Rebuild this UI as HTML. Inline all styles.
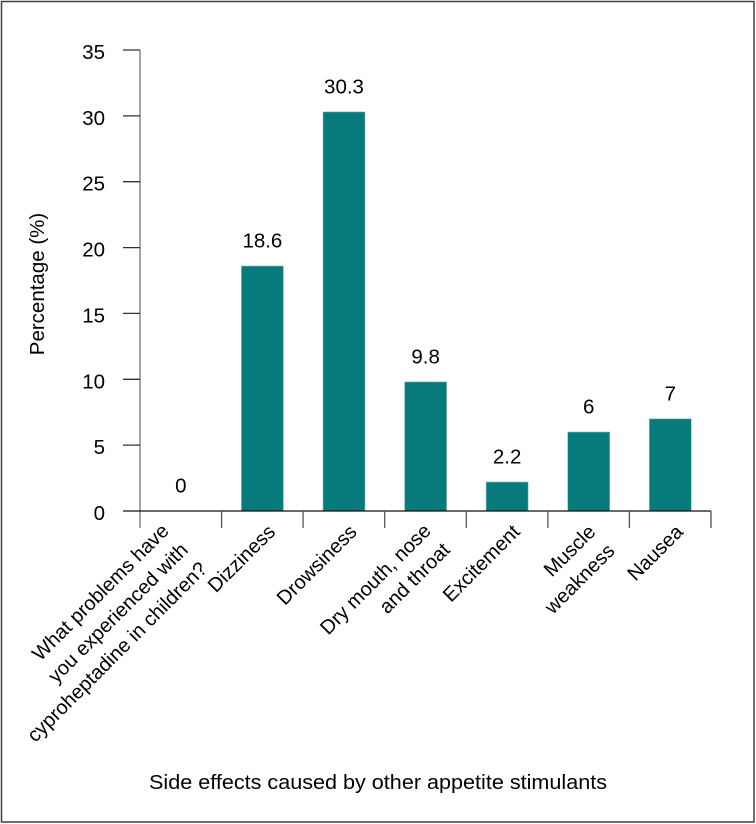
<!DOCTYPE html>
<html>
<head>
<meta charset="utf-8">
<style>
  html, body { margin:0; padding:0; background:#fff; }
  svg { display:block; }
  text { font-family: "Liberation Sans", Arial, sans-serif; fill:#000; }
</style>
</head>
<body>
<svg width="756" height="824" viewBox="0 0 756 824" xmlns="http://www.w3.org/2000/svg">
  <rect x="0" y="0" width="756" height="824" fill="#fff"/>
  <rect x="1.5" y="1.5" width="752.5" height="820.5" fill="none" stroke="#404040" stroke-width="1.5"/>

  <!-- bars -->
  <g fill="#077b7b" stroke="#9ab9b9" stroke-width="0.6">
    <rect x="241.4" y="266.0" width="42" height="245.0"/>
    <rect x="323.0" y="111.9" width="42" height="399.1"/>
    <rect x="404.6" y="381.9" width="42" height="129.1"/>
    <rect x="486.1" y="482.0" width="42" height="29.0"/>
    <rect x="567.7" y="432.0" width="42" height="79.0"/>
    <rect x="649.3" y="418.8" width="42" height="92.2"/>
  </g>

  <!-- y axis -->
  <line x1="140" y1="50" x2="140" y2="528" stroke="#777" stroke-width="1.3"/>
  <g stroke="#333" stroke-width="1.3">
    <line x1="123" y1="50" x2="140" y2="50"/>
    <line x1="123" y1="115.9" x2="140" y2="115.9"/>
    <line x1="123" y1="181.7" x2="140" y2="181.7"/>
    <line x1="123" y1="247.6" x2="140" y2="247.6"/>
    <line x1="123" y1="313.4" x2="140" y2="313.4"/>
    <line x1="123" y1="379.3" x2="140" y2="379.3"/>
    <line x1="123" y1="445.1" x2="140" y2="445.1"/>
  </g>
  <!-- x axis -->
  <line x1="123" y1="511" x2="711" y2="511" stroke="#111" stroke-width="1.3"/>
  <g stroke="#555" stroke-width="1.3">
    <line x1="221.6" y1="511" x2="221.6" y2="528"/>
    <line x1="303.1" y1="511" x2="303.1" y2="528"/>
    <line x1="384.7" y1="511" x2="384.7" y2="528"/>
    <line x1="466.3" y1="511" x2="466.3" y2="528"/>
    <line x1="547.9" y1="511" x2="547.9" y2="528"/>
    <line x1="629.4" y1="511" x2="629.4" y2="528"/>
    <line x1="711" y1="511" x2="711" y2="528"/>
  </g>

  <!-- y tick labels -->
  <g font-size="20.5" text-anchor="end">
    <text x="105" y="59">35</text>
    <text x="105" y="124.9">30</text>
    <text x="105" y="190.7">25</text>
    <text x="105" y="256.6">20</text>
    <text x="105" y="322.4">15</text>
    <text x="105" y="388.3">10</text>
    <text x="105" y="454.1">5</text>
    <text x="105" y="520">0</text>
  </g>

  <!-- y axis title -->
  <text x="0" y="0" font-size="20.5" text-anchor="middle" transform="translate(44,284) rotate(-90)">Percentage (%)</text>

  <!-- value labels -->
  <g font-size="20.5" text-anchor="middle">
    <text x="180.8" y="492.6">0</text>
    <text x="262.4" y="247.6">18.6</text>
    <text x="344.0" y="93.5">30.3</text>
    <text x="425.6" y="363.5">9.8</text>
    <text x="507.1" y="463.6">2.2</text>
    <text x="588.7" y="413.6">6</text>
    <text x="670.3" y="400.4">7</text>
  </g>

  <!-- category labels -->
  <g font-size="20" text-anchor="end">
    <g transform="translate(170,532) rotate(-45)">
      <text x="0" y="0">What problems have</text>
      <text x="0" y="27">you experienced with</text>
      <text x="0" y="54">cyproheptadine in children?</text>
    </g>
    <g transform="translate(276.4,533) rotate(-45)">
      <text x="0" y="0">Dizziness</text>
    </g>
    <g transform="translate(358,533) rotate(-45)">
      <text x="0" y="0">Drowsiness</text>
    </g>
    <g transform="translate(432,532) rotate(-45)">
      <text x="0" y="0">Dry mouth, nose</text>
      <text x="0" y="27">and throat</text>
    </g>
    <g transform="translate(521,533) rotate(-45)">
      <text x="0" y="0">Excitement</text>
    </g>
    <g transform="translate(596.7,533) rotate(-45)">
      <text x="0" y="0">Muscle</text>
      <text x="0" y="27">weakness</text>
    </g>
    <g transform="translate(684.3,533) rotate(-45)">
      <text x="0" y="0">Nausea</text>
    </g>
  </g>

  <!-- x axis title -->
  <text x="149" y="789" font-size="20.5" textLength="458" lengthAdjust="spacingAndGlyphs">Side effects caused by other appetite stimulants</text>
</svg>
</body>
</html>
